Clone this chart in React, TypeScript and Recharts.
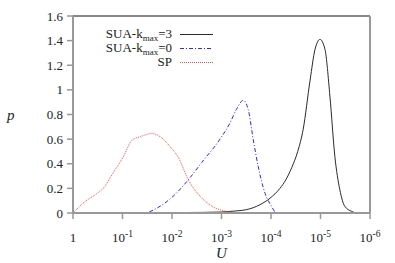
import { LineChart, Line, XAxis, YAxis, ReferenceLine, Legend } from 'recharts'

const sua3Exp = [0, 1.5, 2.0, 2.6, 3.0, 3.17, 3.5, 3.78, 3.98, 4.18, 4.3, 4.42, 4.54, 4.65, 4.79, 4.89, 4.99, 5.09, 5.19, 5.29, 5.39, 5.49, 5.63, 5.75, 6]
const sua3P = [0, 0, 0.003, 0.005, 0.008, 0.013, 0.027, 0.068, 0.12, 0.2, 0.27, 0.37, 0.5, 0.68, 1.08, 1.33, 1.41, 1.33, 0.95, 0.46, 0.19, 0.055, 0.013, 0, 0]

const sua0Exp = [1.0, 1.42, 1.76, 2.02, 2.33, 2.6, 2.97, 3.17, 3.3, 3.44, 3.54, 3.64, 3.74, 3.88, 4.01, 4.11, 4.5]
const sua0P = [0, 0, 0.055, 0.135, 0.27, 0.41, 0.6, 0.73, 0.84, 0.915, 0.84, 0.6, 0.38, 0.16, 0.055, 0, 0]

const spExp = [0, 0.25, 0.48, 0.61, 0.81, 1.02, 1.19, 1.36, 1.59, 1.76, 1.96, 2.13, 2.33, 2.57, 2.83, 3.1, 3.3, 3.6]
const spP = [0, 0.095, 0.157, 0.2, 0.325, 0.46, 0.59, 0.62, 0.645, 0.62, 0.54, 0.45, 0.27, 0.135, 0.05, 0.013, 0, 0]

const xTicks = [1, 1e-1, 1e-2, 1e-3, 1e-4, 1e-5, 1e-6]
const yTicks = [0, 0.2, 0.4, 0.6, 0.8, 1, 1.2, 1.4, 1.6]

const toRows = (exps: number[], ps: number[]) => exps.map((e, i) => ({ u: Math.pow(10, -e), p: ps[i] }))

const series = [
  { key: 'sua3', label: '=3', color: '#2a2a2a', dash: undefined, data: toRows(sua3Exp, sua3P) },
  { key: 'sua0', label: '=0', color: '#2a2aff', dash: '4 2 1 2', data: toRows(sua0Exp, sua0P) },
  { key: 'sp', label: 'SP', color: '#ff4a4a', dash: '1 1', data: toRows(spExp, spP) },
]

const FONT = '"Liberation Serif", "Times New Roman", serif'

const XTick = (props: any) => {
  const { x, y, payload } = props
  const v = payload.value as number
  const n = Math.round(-Math.log10(v))
  return (
    <text x={x} y={y + 21} textAnchor="middle" fontFamily={FONT} fontSize={13} fill="#222">
      {n === 0 ? '1' : (
        <>
          <tspan>10</tspan>
          <tspan dy={-5} fontSize={9.5}>-{n}</tspan>
        </>
      )}
    </text>
  )
}

const LegendBox = () => (
  <div style={{ fontFamily: FONT, fontSize: 13, color: '#222' }}>
    {series.map(s => (
      <div key={s.key} style={{ display: 'flex', alignItems: 'center', height: 14 }}>
        <div style={{ width: 80, textAlign: 'right', whiteSpace: 'nowrap', lineHeight: '14px' }}>
          {s.key === 'sp' ? 'SP' : (
            <>SUA-k<sub style={{ fontSize: 9, verticalAlign: '-3px', lineHeight: 0 }}>max</sub>{s.label}</>
          )}
        </div>
        <svg width={41} height={14}>
          <line x1={8} x2={41} y1={7.5} y2={7.5} stroke={s.color} strokeWidth={1} strokeDasharray={s.dash} />
        </svg>
      </div>
    ))}
  </div>
)

export default function App() {
  return (
    <div style={{ position: 'absolute', left: 0, top: 0, width: 395, height: 263, background: '#fff' }}>
      <LineChart width={395} height={263} margin={{ top: 16, right: 25, bottom: 0, left: 0 }}>
        <XAxis
          dataKey="u"
          type="number"
          scale="log"
          domain={[1e-6, 1]}
          reversed
          allowDataOverflow
          ticks={xTicks}
          interval={0}
          height={50}
          tick={<XTick />}
          tickSize={6}
          axisLine={{ stroke: '#999', strokeWidth: 2 }}
          tickLine={{ stroke: '#999', strokeWidth: 1.5 }}
          label={{ value: 'U', position: 'insideBottom', offset: 5, fontFamily: FONT, fontSize: 15, fontStyle: 'italic', fill: '#222' }}
        />
        <YAxis
          type="number"
          domain={[0, 1.6]}
          ticks={yTicks}
          interval={0}
          width={73}
          tickSize={6}
          tickMargin={4}
          tick={{ fontFamily: FONT, fontSize: 13, fill: '#222' }}
          axisLine={{ stroke: '#999', strokeWidth: 2 }}
          tickLine={{ stroke: '#999', strokeWidth: 1.5 }}
          label={{ value: 'p', position: 'insideLeft', offset: 7, angle: 0, fontFamily: FONT, fontSize: 15, fontStyle: 'italic', fill: '#222' }}
        />
        <ReferenceLine y={1.6} stroke="#111" strokeWidth={1} ifOverflow="visible" />
        <ReferenceLine x={1e-6} stroke="#999" strokeWidth={2} ifOverflow="visible" />
        <Legend
          layout="horizontal"
          verticalAlign="middle"
          align="center"
          wrapperStyle={{ position: 'absolute', top: 27, left: 92, width: 125 }}
          content={<LegendBox />}
        />
        {series.map(s => (
          <Line
            key={s.key}
            data={s.data}
            dataKey="p"
            type="monotone"
            stroke={s.color}
            strokeWidth={1}
            strokeDasharray={s.dash}
            dot={false}
            activeDot={false}
            isAnimationActive={false}
          />
        ))}
      </LineChart>
    </div>
  )
}
